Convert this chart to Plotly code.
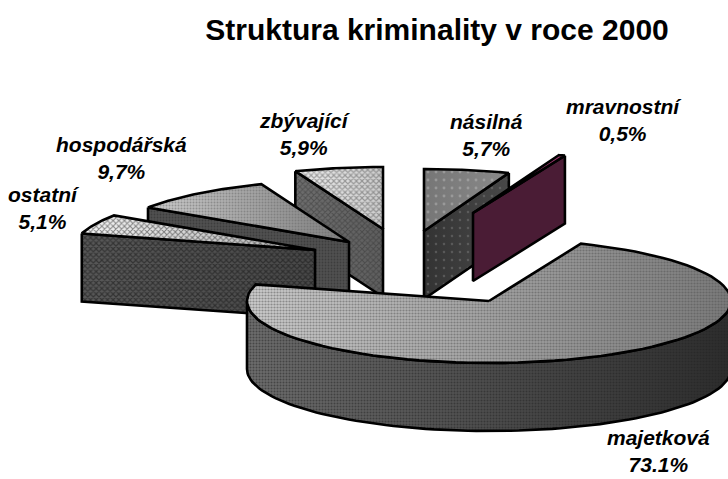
import numpy as np
import plotly.graph_objects as go

# Data
categories = ["násilná", "mravnostní", "majetková", "ostatní", "hospodářská", "zbývající"]
values = [5.7, 0.5, 73.1, 5.1, 9.7, 5.9]
value_labels = ["5,7%", "0,5%", "73.1%", "5,1%", "9,7%", "5,9%"]
title_text = "Struktura kriminality v roce 2000"

# Layout of the exploded 3D pie (pixel space of the axes)
apex = {"násilná": (424, 231), "mravnostní": (473, 213), "majetková": (489, 301),
        "ostatní": (315, 250), "hospodářská": (349, 242), "zbývající": (383, 229)}
label_pos = {"násilná": (486, 135), "mravnostní": (624, 120), "majetková": (658, 451),
             "ostatní": (44, 208), "hospodářská": (121, 158), "zbývající": (305, 134)}
RX, RY, DEPTH = 242, 62, 68

# Style: (gradient left, gradient right, pattern shape, pattern colour, size, solidity)
top_style = {
    "násilná": ("#767676", "#8a8a8a", ".", "#b8b8b8", 8, 0.1),
    "mravnostní": ("#a23a72", "#a23a72", "", "", 0, 0),
    "majetková": ("#cccccc", "#7a7a7a", ".", "#505050", 3, 0.42),
    "ostatní": ("#f6f6f6", "#b0b0b0", "x", "#1a1a1a", 4, 0.45),
    "hospodářská": ("#cccccc", "#7e7e7e", ".", "#666666", 3, 0.35),
    "zbývající": ("#eeeeee", "#cccccc", "x", "#555555", 4, 0.5),
}
side_style = {
    "násilná": ("#333333", "#484848", ".", "#777777", 8, 0.08),
    "mravnostní": ("#4a1c35", "#4a1c35", "", "", 0, 0),
    "majetková": ("#6c6c6c", "#2c2c2c", ".", "#222222", 3, 0.35),
    "ostatní": ("#585858", "#484848", "x", "#111111", 4, 0.5),
    "hospodářská": ("#505050", "#505050", ".", "#2a2a2a", 3, 0.3),
    "zbývající": ("#6e6e6e", "#5e5e5e", "x", "#333333", 4, 0.45),
}
draw_order = ["zbývající", "hospodářská", "ostatní", "násilná", "mravnostní", "majetková"]

# Angles derived from the values, clockwise from 12 o'clock
cum = np.cumsum([0] + values) / 100 * 360
angles = {c: (cum[i], cum[i + 1]) for i, c in enumerate(categories)}


def pt(cx, cy, deg):
    r = np.radians(deg)
    return cx + RX * np.sin(r), cy - RY * np.cos(r)


def arc(cx, cy, a0, a1, n=90):
    t = np.linspace(a0, a1, n)
    r = np.radians(t)
    return cx + RX * np.sin(r), cy - RY * np.cos(r)


fig = go.Figure()


def face(xs, ys, style):
    c0, c1, shape, fg, size, sol = style
    xs = list(xs) + [xs[0]]
    ys = list(ys) + [ys[0]]
    fig.add_trace(go.Scatter(x=xs, y=ys, mode="lines", fill="toself",
                             fillgradient=dict(type="horizontal", colorscale=[[0, c0], [1, c1]]),
                             line=dict(width=0, color="rgba(0,0,0,0)"),
                             hoverinfo="skip", showlegend=False))
    kw = {}
    if shape:
        kw = dict(fill="toself", fillcolor="rgba(0,0,0,0)",
                  fillpattern=dict(shape=shape, fgcolor=fg, bgcolor="rgba(0,0,0,0)",
                                   size=size, solidity=sol, fillmode="overlay"))
    fig.add_trace(go.Scatter(x=xs, y=ys, mode="lines", line=dict(color="black", width=2.6),
                             hoverinfo="skip", showlegend=False, **kw))


for c in draw_order:
    cx, cy = apex[c]
    a0, a1 = angles[c]
    # side faces
    if c == "majetková":
        ax, ay = arc(cx, cy, 90, 270)
        xs = list(ax) + list(ax[::-1])
        ys = list(ay) + list((ay + DEPTH)[::-1])
    else:
        cut = a1 if a1 < 180 else a0          # the cut edge that faces the viewer
        ex, ey = pt(cx, cy, cut)
        xs = [ex, cx, cx, ex]
        ys = [ey, cy, cy + DEPTH, ey + DEPTH]
    face(xs, ys, side_style[c])
    # top face
    ax, ay = arc(cx, cy, a0, a1)
    face([cx] + list(ax), [cy] + list(ay), top_style[c])

# Labels
for c, v in zip(categories, value_labels):
    x, y = label_pos[c]
    fig.add_annotation(x=x, y=y, text=f"<b><i>{c}<br>{v}</i></b>", showarrow=False,
                       align="center", xanchor="center", yanchor="middle",
                       font=dict(family="Liberation Sans", size=21, color="black"))

fig.update_layout(
    width=728, height=479, margin=dict(l=0, r=0, t=0, b=0),
    paper_bgcolor="white", plot_bgcolor="white", showlegend=False,
    xaxis=dict(range=[0, 728], visible=False, fixedrange=True),
    yaxis=dict(range=[479, 0], visible=False, fixedrange=True),
    title=dict(text=f"<b>{title_text}</b>", x=437 / 728, xanchor="center", y=1 - 29 / 479,
               yanchor="middle", font=dict(family="Liberation Sans", size=30, color="black")),
)
fig.write_html("out.html", config={"displayModeBar": False},
               post_script="document.body.style.margin='0';document.body.style.overflow='hidden';")
